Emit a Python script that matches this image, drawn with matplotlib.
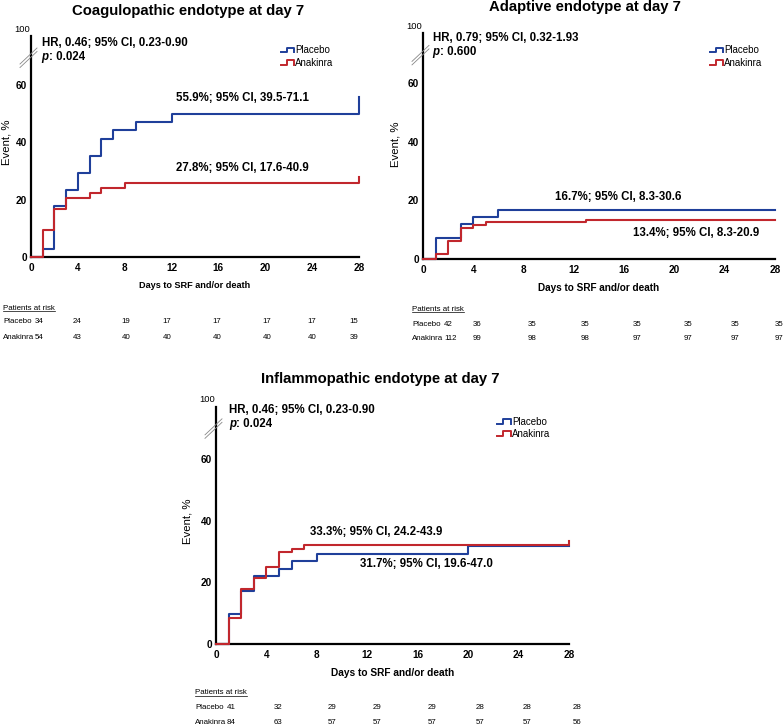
import matplotlib
matplotlib.use('Agg')
import matplotlib.pyplot as plt
from matplotlib.lines import Line2D
from matplotlib.legend_handler import HandlerBase

plt.rcParams['font.family'] = ['Liberation Sans', 'DejaVu Sans']

W, H = 784, 727
BLUE = '#1f3f9a'
RED = '#c1272d'

# ---- data ----
day_ticks = [0, 4, 8, 12, 16, 20, 24, 28]
event_ticks = [0, 20, 40, 60]
arms = ['Placebo', 'Anakinra']

# coagulopathic endotype
coag_placebo_t = [0, 1, 2, 3, 4, 5, 6, 7, 9, 12, 28]
coag_placebo_y = [0, 2.9, 17.6, 23.5, 29.4, 35.3, 41.2, 44.1, 47.1, 50.0, 55.9]
coag_anak_t = [0, 1, 2, 3, 5, 6, 8, 28]
coag_anak_y = [0, 9.3, 16.7, 20.4, 22.2, 24.1, 25.9, 27.8]
coag_risk_placebo = [34, 24, 19, 17, 17, 17, 17, 15]
coag_risk_anak = [54, 43, 40, 40, 40, 40, 40, 39]

# adaptive endotype
adap_placebo_t = [0, 1, 3, 4, 6, 28]
adap_placebo_y = [0, 7.1, 11.9, 14.3, 16.7, 16.7]
adap_anak_t = [0, 1, 2, 3, 4, 5, 13, 28]
adap_anak_y = [0, 1.8, 6.3, 10.7, 11.6, 12.5, 13.4, 13.4]
adap_risk_placebo = [42, 36, 35, 35, 35, 35, 35, 35]
adap_risk_anak = [112, 99, 98, 98, 97, 97, 97, 97]

# inflammopathic endotype
infl_placebo_t = [0, 1, 2, 3, 5, 6, 8, 20, 28]
infl_placebo_y = [0, 9.8, 17.1, 22.0, 24.4, 26.8, 29.3, 31.7, 31.7]
infl_anak_t = [0, 1, 2, 3, 4, 5, 6, 7, 28]
infl_anak_y = [0, 8.3, 17.9, 21.4, 25.0, 29.8, 31.0, 32.1, 33.3]
infl_risk_placebo = [41, 32, 29, 29, 29, 28, 28, 28]
infl_risk_anak = [84, 63, 57, 57, 57, 57, 57, 56]


class StepHandler(HandlerBase):
    def create_artists(self, legend, orig, xd, yd, w, h, fontsize, trans):
        x0 = -xd
        line = Line2D([x0, x0 + 0.45 * w, x0 + 0.45 * w, x0 + w, x0 + w],
                      [0.15 * h, 0.15 * h, 0.85 * h, 0.85 * h, 0.15 * h],
                      color=orig.get_color(), lw=1.4, transform=trans)
        return [line]


def ftext(x, y, s, **kw):
    # text placed in figure pixel coordinates (from the top-left corner)
    return fig.text(x / W, 1 - y / H, s, **kw)


fig = plt.figure(figsize=(7.84, 7.27), dpi=100)
underlined = []


def panel(p):
    x0, x1, y0, ppu = p['box']
    top = 77
    ax = fig.add_axes([x0 / W, 1 - y0 / H, (x1 - x0) / W, top * ppu / H])
    ax.step(p['pt'], p['py'], where='post', color=BLUE, lw=1.5, clip_on=False, zorder=3, label='Placebo')
    ax.step(p['at'], p['ay'], where='post', color=RED, lw=1.5, clip_on=False, zorder=4, label='Anakinra')
    ax.set_xlim(0, 28)
    ax.set_ylim(0, top)
    ax.set_xticks(day_ticks)
    ax.set_yticks(event_ticks)
    for s in ['top', 'right']:
        ax.spines[s].set_visible(False)
    for s in ['left', 'bottom']:
        ax.spines[s].set_linewidth(1.6)
    ax.tick_params(length=0, labelsize=7.2)
    ax.tick_params(axis='x', pad=4)
    ax.tick_params(axis='y', pad=3)
    for lab in ax.get_xticklabels() + ax.get_yticklabels():
        lab.set_fontweight('bold')

    # broken axis: "100" label and break marks
    ftext(x0 - 0.5, y0 - top * ppu - 7, '100', ha='right', va='center', fontsize=6.8)
    by = y0 - top * ppu + 20
    for off in (0, 3.5):
        fig.add_artist(Line2D([(x0 - 11) / W, (x0 + 6) / W],
                              [1 - (by + 8 + off) / H, 1 - (by - 8 + off) / H],
                              color='#888888', lw=0.6))

    ftext(p['title'][0], p['title'][1], p['name'], ha='center', va='baseline',
          fontsize=10.7, fontweight='bold')
    ftext(p['ylab'][0], p['ylab'][1], 'Event, %', rotation=90, ha='center', va='center', fontsize=8.2)
    ftext((x0 + x1) / 2, y0 + 29, 'Days to SRF and/or death', ha='center', va='center',
          fontsize=p['xlab_size'], fontweight='bold')

    hx, hy, py_ = p['hr']
    ax.text(hx, hy, p['hr_txt'], ha='left', va='center', fontsize=8.3, fontweight='bold')
    t = ax.text(hx, py_, 'p', ha='left', va='center', fontsize=8.3, fontweight='bold', style='italic')
    ax.annotate(': ' + p['p_txt'], xy=(1, 0), xycoords=t, va='bottom', ha='left',
                fontsize=8.3, fontweight='bold')
    for (cx, cy), s in zip(p['ci_xy'], p['ci_txt']):
        ax.text(cx, cy, s, ha='left', va='center', fontsize=8.3, fontweight='bold')

    lx, ly = p['leg']
    ax.legend(handler_map={Line2D: StepHandler()}, loc='upper left', bbox_to_anchor=(lx, ly),
              frameon=False, fontsize=7, handlelength=1.4, handletextpad=0.1,
              borderpad=0, borderaxespad=0, labelspacing=0.25)

    # patients at risk table
    tx, hy_, r1, r2, first_x, cols = p['risk']
    underlined.append(ftext(tx, hy_, 'Patients at risk', ha='left', va='center', fontsize=5.7))
    for ry, name, vals in zip([r1, r2], arms, [p['rp'], p['ra']]):
        ftext(tx, ry, name, ha='left', va='center', fontsize=5.7)
        ftext(first_x, ry, str(vals[0]), ha='left', va='center', fontsize=5.7)
        for cx, v in zip(cols, vals[1:]):
            ftext(cx, ry, str(v), ha='center', va='center', fontsize=5.7)
    return ax


panels = [
    dict(name='Coagulopathic endotype at day 7', box=(31, 359, 257, 2.87),
         pt=coag_placebo_t, py=coag_placebo_y, at=coag_anak_t, ay=coag_anak_y,
         rp=coag_risk_placebo, ra=coag_risk_anak,
         title=(188, 15), ylab=(6.5, 142), xlab_size=6.6,
         hr=(0.9, 74.5, 69.6), hr_txt='HR, 0.46; 95% CI, 0.23-0.90', p_txt='0.024',
         ci_xy=[(12.4, 55.5), (12.4, 30.9)],
         ci_txt=['55.9%; 95% CI, 39.5-71.1', '27.8%; 95% CI, 17.6-40.9'],
         leg=(0.761, 0.958),
         risk=(3, 308, 321.7, 337.7, 35, [77, 126, 167, 217, 267, 312, 354])),
    dict(name='Adaptive endotype at day 7', box=(423, 775, 259, 2.93),
         pt=adap_placebo_t, py=adap_placebo_y, at=adap_anak_t, ay=adap_anak_y,
         rp=adap_risk_placebo, ra=adap_risk_anak,
         title=(585, 11), ylab=(396, 144), xlab_size=7.2,
         hr=(0.77, 75.5, 70.5), hr_txt='HR, 0.79; 95% CI, 0.32-1.93', p_txt='0.600',
         ci_xy=[(10.5, 21.3), (16.7, 8.8)],
         ci_txt=['16.7%; 95% CI, 8.3-30.6', '13.4%; 95% CI, 8.3-20.9'],
         leg=(0.815, 0.947),
         risk=(412, 310, 324, 338.3, 444, [477.3, 531.7, 585, 637, 688, 735.3, 778.7])),
    dict(name='Inflammopathic endotype at day 7', box=(216, 569, 644, 3.08),
         pt=infl_placebo_t, py=infl_placebo_y, at=infl_anak_t, ay=infl_anak_y,
         rp=infl_risk_placebo, ra=infl_risk_anak,
         title=(380, 383), ylab=(188, 521), xlab_size=7.25,
         hr=(1.03, 76, 71.4), hr_txt='HR, 0.46; 95% CI, 0.23-0.90', p_txt='0.024',
         ci_xy=[(7.45, 36.4), (11.4, 26)],
         ci_txt=['33.3%; 95% CI, 24.2-43.9', '31.7%; 95% CI, 19.6-47.0'],
         leg=(0.797, 0.958),
         risk=(195, 693, 707.7, 723, 226.7, [278, 332, 377, 432, 480, 527, 577])),
]

for p in panels:
    panel(p)

# underline the "Patients at risk" headers
renderer = fig.canvas.get_renderer()
for t in underlined:
    bb = t.get_window_extent(renderer)
    yb = bb.y0 + 1
    fig.add_artist(Line2D([bb.x0 / W, bb.x1 / W], [yb / H, yb / H], color='black', lw=0.5))

fig.savefig('out.png', dpi=100)
